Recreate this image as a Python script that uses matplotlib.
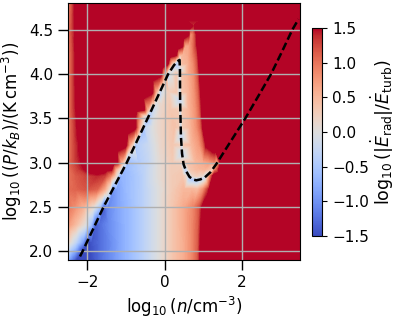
import numpy as np
import matplotlib
matplotlib.use("Agg")
import matplotlib.pyplot as plt
import matplotlib.tri as mtri
from matplotlib.colors import Normalize
from matplotlib.cm import ScalarMappable

# equilibrium curve (log n, log P/kB)
logn_eq = [-2.19, -2.12, -1.58, -0.98, -0.44, 0.09, 0.24, 0.33, 0.385, 0.395, 0.40, 0.42, 0.45,
           0.49, 0.56, 0.64, 0.73, 0.815, 0.92, 1.03, 1.18, 1.33, 1.70, 2.085, 2.42, 2.75, 3.03,
           3.30, 3.46]
logp_eq = [1.94, 2.00, 2.50, 3.00, 3.50, 4.00, 4.10, 4.145, 4.16, 4.05, 3.70, 3.30, 3.10,
           2.98, 2.90, 2.84, 2.81, 2.80, 2.81, 2.83, 2.89, 2.98, 3.235, 3.50, 3.75, 4.00, 4.25,
           4.50, 4.62]
# colour value seen right on the curve (first points only, where the halo shows)
eq_field = [-1.7, -1.7, -1.4, -0.8, -0.6, -0.5, -0.4, -0.3, -0.2, -0.2, -0.3, -0.3, -0.3,
            -0.4, -0.5, -0.5, -0.5, -0.5, -0.4, -0.3, 0.0, 0.5]

# log10(|E_rad|/E_turb) sampled along rows of constant log P
row_y = [1.9, 2.1, 2.3, 2.5, 2.7, 2.85, 2.93, 3.0, 3.2, 3.4, 3.6, 3.8, 4.0, 4.12, 4.22, 4.32,
         4.45, 4.55, 4.8]
row_x = [
    [-2.5, -2.35, -2.22, -2.0, -1.8, -1.6, -1.3, -1.0, -0.6, -0.15, 0.2, 0.5, 0.7, 0.85, 0.93, 1.1, 2.0, 3.5],
    [-2.5, -2.3, -2.12, -2.01, -1.9, -1.7, -1.45, -1.0, -0.6, -0.15, 0.2, 0.5, 0.7, 0.86, 0.94, 1.1, 2.0, 3.5],
    [-2.5, -2.3, -2.05, -1.9, -1.80, -1.7, -1.45, -1.0, -0.6, -0.15, 0.2, 0.5, 0.72, 0.87, 0.96, 1.1, 2.0, 3.5],
    [-2.5, -2.35, -2.1, -1.85, -1.68, -1.48, -1.2, -1.0, -0.6, -0.15, 0.2, 0.5, 0.75, 0.9, 0.99, 1.15, 2.0, 3.5],
    [-2.5, -2.3, -2.0, -1.75, -1.55, -1.42, -1.34, -1.25, -1.0, -0.6, -0.15, 0.2, 0.5, 0.7, 0.85, 1.0, 1.1, 1.17, 1.35, 2.0, 3.5],
    [-2.5, -2.3, -2.0, -1.75, -1.55, -1.4, -1.28, -1.21, -1.16, -1.1, -0.9, -0.6, -0.15, 0.2, 0.45, 0.55, 0.62, 0.72, 0.82, 0.95, 1.08, 1.16, 1.26, 1.45, 2.0, 3.5],
    [-2.5, -2.25, -2.0, -1.8, -1.55, -1.38, -1.26, -1.15, -1.1, -1.064, -1.0, -0.8, -0.5, -0.15, 0.2, 0.42, 0.53, 0.65, 0.85, 1.05, 1.18, 1.25, 1.32, 1.42, 1.6, 2.5, 3.5],
    [-2.5, -2.35, -2.15, -2.03, -1.9, -1.6, -1.35, -1.22, -1.12, -1.03, -0.92, -0.7, -0.4, -0.15, 0.2, 0.4, 0.58, 0.8, 1.0, 1.15, 1.28, 1.36, 1.45, 1.6, 2.5, 3.5],
    [-2.5, -2.35, -2.15, -1.9, -1.3, -1.0, -0.9, -0.81, -0.764, -0.7, -0.4, -0.1, 0.2, 0.38, 0.435, 0.5, 0.7, 0.9, 1.0, 1.08, 1.3, 2.5, 3.5],
    [-2.5, -2.38, -2.22, -2.0, -1.0, -0.76, -0.66, -0.59, -0.548, -0.5, -0.3, 0.0, 0.25, 0.36, 0.415, 0.47, 0.65, 0.82, 0.93, 1.0, 1.2, 2.0, 3.5],
    [-2.5, -2.4, -2.25, -2.0, -0.8, -0.54, -0.45, -0.375, -0.334, -0.28, -0.1, 0.15, 0.34, 0.405, 0.46, 0.62, 0.8, 0.9, 0.97, 1.2, 2.3, 3.5],
    [-2.5, -2.4, -2.27, -2.0, -0.6, -0.32, -0.23, -0.16, -0.122, -0.07, 0.1, 0.3, 0.399, 0.45, 0.6, 0.77, 0.87, 0.95, 1.15, 2.5, 3.5],
    [-2.5, -2.4, -2.28, -2.0, -0.35, -0.09, -0.01, 0.05, 0.15, 0.3, 0.397, 0.45, 0.6, 0.75, 0.85, 0.92, 1.1, 2.75, 3.5],
    [-2.5, -2.4, -2.28, -2.0, -0.1, 0.08, 0.16, 0.23, 0.28, 0.39, 0.45, 0.6, 0.74, 0.84, 0.9, 1.1, 3.5],
    [-2.5, -2.4, -2.28, -2.0, 0.1, 0.30, 0.37, 0.45, 0.6, 0.72, 0.83, 0.88, 1.05, 3.5],
    [-2.5, -2.4, -2.29, -2.0, 0.3, 0.46, 0.52, 0.62, 0.72, 0.8, 0.86, 1.0, 3.5],
    [-2.5, -2.4, -2.28, -2.0, 0.45, 0.62, 0.66, 0.71, 0.76, 0.8, 0.84, 1.0, 3.5],
    [-2.5, -2.4, -2.29, -2.0, 0.6, 0.70, 0.74, 0.78, 0.9, 3.5],
    [-2.5, -2.4, -2.3, -2.0, 0.0, 1.5, 3.5],
]
row_v = [
    [-0.8, -1.3, -1.7, -1.55, -1.4, -1.2, -0.95, -0.7, -0.4, 0.0, 0.35, 0.6, 0.85, 1.15, 1.6, 2.0, 2.0, 2.0],
    [0.2, -0.3, -0.9, -1.6, -1.45, -1.3, -1.1, -0.7, -0.4, 0.0, 0.35, 0.6, 0.85, 1.15, 1.6, 2.0, 2.0, 2.0],
    [0.75, 0.45, 0.0, -0.6, -1.4, -1.3, -1.05, -0.7, -0.4, 0.0, 0.35, 0.62, 0.88, 1.15, 1.6, 2.0, 2.0, 2.0],
    [1.0, 0.85, 0.55, 0.1, -0.5, -1.1, -0.85, -0.7, -0.4, 0.0, 0.35, 0.62, 0.9, 1.2, 1.6, 2.0, 2.0, 2.0],
    [1.05, 1.1, 1.2, 1.1, 0.6, 0.0, -1.0, -0.9, -0.65, -0.4, 0.0, 0.3, 0.5, 0.5, 0.45, 0.8, 1.25, 1.6, 2.0, 2.0, 2.0],
    [1.0, 1.15, 1.3, 1.4, 1.3, 0.9, 0.3, -0.2, -0.8, -0.7, -0.6, -0.4, 0.05, 0.3, 0.35, 0.1, -0.5, 0.15, 0.25, 0.15, -0.3, 0.8, 1.6, 2.0, 2.0, 2.0],
    [1.0, 1.3, 1.6, 1.75, 1.7, 1.6, 0.6, 0.1, -0.25, -0.8, -0.65, -0.5, -0.3, 0.05, 0.3, 0.3, -0.4, 0.35, 0.5, 0.55, 0.4, 0.1, 0.9, 1.6, 2.0, 2.0, 2.0],
    [1.0, 1.25, 1.5, 1.6, 2.0, 2.0, 1.8, 1.5, 0.6, 0.05, -0.6, -0.45, -0.25, 0.05, 0.3, 0.25, 0.35, 0.5, 0.6, 0.7, 0.85, 0.5, 1.6, 2.0, 2.0, 2.0],
    [0.95, 1.25, 1.6, 2.0, 2.0, 1.6, 0.6, 0.1, -0.6, -0.4, -0.2, 0.15, 0.35, 0.25, -0.3, 0.35, 0.5, 0.75, 1.1, 1.6, 2.0, 2.0, 2.0],
    [0.9, 1.2, 1.6, 2.0, 2.0, 1.6, 0.6, 0.1, -0.6, -0.3, -0.0, 0.25, 0.4, 0.3, -0.3, 0.3, 0.5, 0.8, 1.1, 1.6, 2.0, 2.0, 2.0],
    [0.9, 1.2, 1.6, 2.0, 2.0, 1.6, 0.6, 0.1, -0.55, -0.2, 0.15, 0.35, 0.3, -0.3, 0.35, 0.5, 0.8, 1.1, 1.6, 2.0, 2.0, 2.0],
    [0.9, 1.2, 1.6, 2.0, 2.0, 1.6, 0.6, 0.1, -0.5, -0.15, 0.25, 0.35, -0.3, 0.35, 0.5, 0.8, 1.1, 1.6, 2.0, 2.0, 2.0],
    [0.9, 1.2, 1.6, 2.0, 2.0, 1.6, 0.6, 0.1, -0.1, 0.35, -0.25, 0.4, 0.55, 0.8, 1.15, 1.6, 2.0, 2.0, 2.0],
    [0.9, 1.2, 1.6, 2.0, 2.0, 1.6, 0.6, 0.15, -0.4, -0.2, 0.45, 0.55, 0.85, 1.2, 1.6, 2.0, 2.0],
    [0.9, 1.2, 1.6, 2.0, 2.0, 1.6, 0.6, 0.5, 0.6, 0.9, 1.25, 1.6, 2.0, 2.0],
    [0.92, 1.22, 1.6, 2.0, 2.0, 1.6, 0.65, 0.65, 0.95, 1.3, 1.6, 2.0, 2.0],
    [0.95, 1.25, 1.6, 2.0, 2.0, 1.6, 0.85, 0.85, 1.1, 1.35, 1.6, 2.0, 2.0],
    [0.95, 1.25, 1.6, 2.0, 2.0, 1.6, 1.35, 1.6, 2.0, 2.0],
    [0.85, 1.2, 1.6, 2.0, 2.0, 2.0, 2.0],
]
cbar_ticks = [-1.5, -1.0, -0.5, 0.0, 0.5, 1.0, 1.5]

for rx, rv in zip(row_x, row_v):
    assert len(rx) == len(rv), (len(rx), len(rv))

n_halo = len(eq_field)
xs = np.concatenate([np.asarray(r, float) for r in row_x] + [np.asarray(logn_eq[:n_halo])])
ys = np.concatenate([np.full(len(r), y) for r, y in zip(row_x, row_y)] + [np.asarray(logp_eq[:n_halo])])
vs = np.concatenate([np.asarray(r, float) for r in row_v] + [np.asarray(eq_field)])

plt.rcParams["font.size"] = 11

fig = plt.figure(figsize=(3.99, 3.19), dpi=100)
ax = fig.add_axes([0.1704, 0.185, 0.5815, 0.8047])
cax = fig.add_axes([0.781, 0.260, 0.027, 0.652])

# triangulate in a space that is roughly isotropic in pixels
tri = mtri.Triangulation(xs, ys, mtri.Triangulation(xs, ys * 2.28).triangles)
levels = np.linspace(-1.5, 1.5, 151)
ax.tricontourf(tri, vs, levels=levels, cmap="coolwarm", extend="both", antialiased=False)

ax.plot(logn_eq, logp_eq, color="k", ls=(0, (3.2, 1.4)), lw=1.8, zorder=3)

ax.set_xlim(-2.5, 3.5)
ax.set_ylim(1.9, 4.8)
ax.set_xticks([-2, 0, 2])
ax.set_yticks([2.0, 2.5, 3.0, 3.5, 4.0, 4.5])
ax.grid(True, color="#b0b0b0", lw=1.0)
ax.tick_params(length=7, width=1, labelsize=11)
ax.set_xlabel(r"$\log_{10}(n/{\rm cm^{-3}})$", fontsize=12)
ax.set_ylabel(r"$\log_{10}((P/k_B)/({\rm K\,cm^{-3}}))$", fontsize=12)

sm = ScalarMappable(norm=Normalize(-1.5, 1.5), cmap="coolwarm")
cb = fig.colorbar(sm, cax=cax, ticks=cbar_ticks)
cb.ax.tick_params(labelsize=11)
cb.set_label(r"$\log_{10}(|\dot{E}_{\rm rad}|/\dot{E}_{\rm turb})$", fontsize=12.5, labelpad=0)

fig.savefig("out.png", dpi=100)
